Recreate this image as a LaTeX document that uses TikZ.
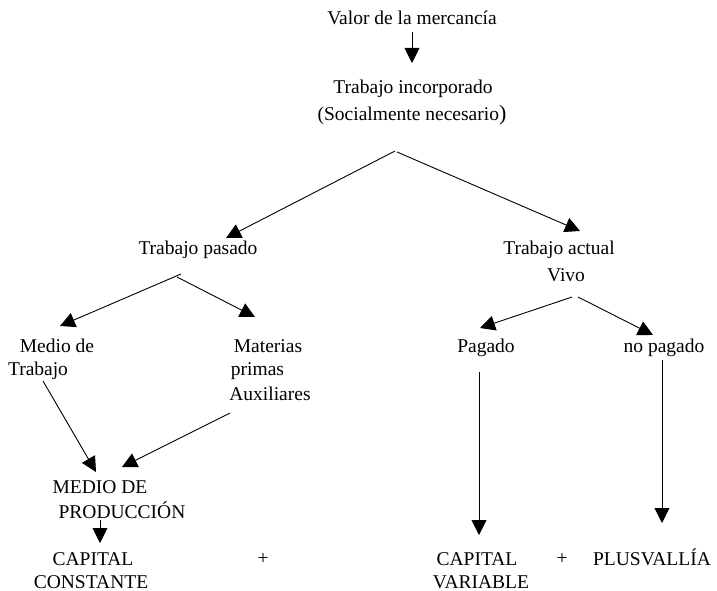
\documentclass[tikz,border=0pt]{standalone}
\usepackage{fontspec}
\setmainfont{Liberation Serif}
\usetikzlibrary{arrows.meta}
\begin{document}
\begin{tikzpicture}[x=1pt,y=-1pt,
  txt/.style={anchor=base,inner sep=0pt,font=\fontsize{19.5}{23.5}\selectfont},
  arr/.style={line width=0.9pt,-{Triangle[length=15pt,width=15pt]}},
  ln/.style={line width=0.9pt}]
\useasboundingbox (0,0) rectangle (717,591);
% nodes
\node[txt] (valor) at (412,25) {Valor de la mercancía};
\node[txt] (incorp) at (413,94) {Trabajo incorporado};
\node[txt] (social) at (412,121) {(Socialmente necesario{\fontsize{22}{22}\selectfont)}};
\node[txt] (pasado) at (198,254) {Trabajo pasado};
\node[txt] (actual) at (559,254) {Trabajo actual};
\node[txt] (vivo) at (566,281) {Vivo};
\node[txt] (medio1) at (57,352) {Medio de};
\node[txt] (medio2) at (38,375) {Trabajo};
\node[txt] (mat1) at (268,352) {Materias};
\node[txt] (mat2) at (257.5,375) {primas};
\node[txt] (mat3) at (270,400) {Auxiliares};
\node[txt] (mp1) at (100,493) {MEDIO DE};
\node[txt] (mp2) at (122,518) {PRODUCCIÓN};
\node[txt] (cc1) at (93,565) {CAPITAL};
\node[txt] (cc2) at (91,588) {CONSTANTE};
\node[txt] (plus1) at (263,564) {+};
\node[txt] (pagado) at (486,352) {Pagado};
\node[txt] (nopagado) at (664,352) {no pagado};
\node[txt] (cv1) at (477,565) {CAPITAL};
\node[txt] (cv2) at (481,588) {VARIABLE};
\node[txt] (plus2) at (562,564) {+};
\node[txt] (plusv) at (652,565) {PLUSVALLÍA};
% connector points
\coordinate (v0) at (412,32);
\coordinate (v1) at (412,63);
\coordinate (apexL) at (395,151);
\coordinate (apexR) at (397,152);
\coordinate (tpasado) at (226,238);
\coordinate (tactual) at (580,231);
\coordinate (pL) at (181,274);
\coordinate (pR) at (177,277);
\coordinate (tmedio) at (60,326);
\coordinate (tmat) at (255,317);
\coordinate (sTrab) at (43,381);
\coordinate (tmp1) at (96,472);
\coordinate (sAux) at (230,413);
\coordinate (tmp2) at (122,467);
\coordinate (sProd) at (100,520);
\coordinate (tcc) at (100,543);
\coordinate (aL) at (572,297);
\coordinate (aR) at (578,297);
\coordinate (tpag) at (480,328);
\coordinate (tnopag) at (653,335);
\coordinate (sPag) at (479,372);
\coordinate (tcv) at (479,535);
\coordinate (sNo) at (662,360);
\coordinate (tplusv) at (662,523);
% connectors
\draw[arr] (v0) -- (v1);
\draw[arr] (apexL) -- (tpasado);
\draw[arr] (apexR) -- (tactual);
\draw[arr] (pL) -- (tmedio);
\draw[arr] (pR) -- (tmat);
\draw[arr] (sTrab) -- (tmp1);
\draw[arr] (sAux) -- (tmp2);
\draw[arr] (sProd) -- (tcc);
\draw[arr] (aL) -- (tpag);
\draw[arr] (aR) -- (tnopag);
\draw[arr] (sPag) -- (tcv);
\draw[arr] (sNo) -- (tplusv);
\end{tikzpicture}
\end{document}
